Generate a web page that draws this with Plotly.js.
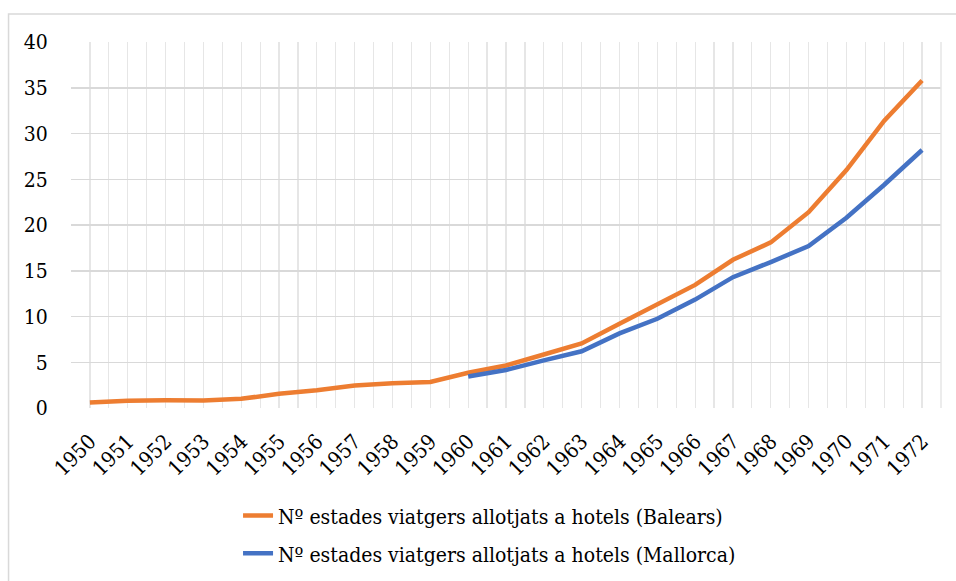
<!DOCTYPE html>
<html>
<head>
<meta charset="utf-8">
<script src="https://cdn.plot.ly/plotly-3.0.1.min.js"></script>
<style>html,body{margin:0;padding:0;background:#fff;}#chart{width:956px;height:581px;}</style>
</head>
<body>
<div id="chart"></div>
<script>
const years = [1950,1951,1952,1953,1954,1955,1956,1957,1958,1959,1960,1961,1962,1963,1964,1965,1966,1967,1968,1969,1970,1971,1972];
const balears = [0.6,0.8,0.85,0.82,1.0,1.55,1.95,2.45,2.7,2.85,3.85,4.65,5.85,7.05,9.2,11.3,13.45,16.2,18.1,21.4,26.0,31.4,35.8];
const mallorcaYears = [1960,1961,1962,1963,1964,1965,1966,1967,1968,1969,1970,1971,1972];
const mallorca = [3.45,4.15,5.2,6.2,8.15,9.75,11.85,14.3,15.95,17.7,20.8,24.4,28.2];
const nameBalears = "Nº estades viatgers allotjats a hotels (Balears)";
const nameMallorca = "Nº estades viatgers allotjats a hotels (Mallorca)";
const yTicks = [0,5,10,15,20,25,30,35,40];

const FAM = "DejaVu Serif Condensed";
function f(size) { return {family: FAM, size: size, color: "#000000"}; }

const traces = [
  {x: years, y: balears, name: nameBalears, type: "scatter", mode: "lines",
   line: {color: "#ED7D31", width: 4.5}, legend: "legend"},
  {x: mallorcaYears, y: mallorca, name: nameMallorca, type: "scatter", mode: "lines",
   line: {color: "#4472C4", width: 4.5}, legend: "legend2"}
];

const layout = {
  width: 956, height: 581,
  margin: {l: 71, r: 15, t: 42, b: 173, autoexpand: false},
  paper_bgcolor: "#ffffff", plot_bgcolor: "#ffffff",
  font: f(21),
  showlegend: true,
  xaxis: {
    range: [1949.5, 1972.5], tickvals: years, ticktext: years.map(String),
    tickangle: -45, tickfont: f(21),
    showgrid: true, gridcolor: "#e6e6e6", gridwidth: 1.2,
    minor: {tick0: 1949.5, dtick: 1, showgrid: true, gridcolor: "#e6e6e6", gridwidth: 1.2},
    zeroline: false, showline: false, automargin: false,
    ticks: "outside", ticklen: 12, tickcolor: "rgba(0,0,0,0)", fixedrange: true
  },
  yaxis: {
    range: [0, 40], tickvals: yTicks, ticktext: yTicks.map(String),
    tickfont: f(21),
    showgrid: true, gridcolor: "#d9d9d9", gridwidth: 1.5,
    zeroline: false, showline: false, automargin: false,
    ticks: "outside", ticklen: 18, tickcolor: "rgba(0,0,0,0)", fixedrange: true
  },
  legend: {x: 0.192, y: -0.295, xanchor: "left", yanchor: "middle",
    font: f(21), bgcolor: "rgba(0,0,0,0)"},
  legend2: {x: 0.192, y: -0.398, xanchor: "left", yanchor: "middle",
    font: f(21), bgcolor: "rgba(0,0,0,0)"},
  shapes: [
    {type: "rect", xref: "paper", yref: "paper", x0: -0.0718, x1: 1.1, y0: -0.6, y1: 1.0765,
     line: {color: "#d9d9d9", width: 1.5}, fillcolor: "rgba(0,0,0,0)", layer: "below"},
    {type: "line", xref: "paper", yref: "paper", x0: 1, x1: 1, y0: 0, y1: 1,
     line: {color: "#e6e6e6", width: 1.5}}
  ]
};

Plotly.newPlot("chart", traces, layout, {displayModeBar: false, staticPlot: true});
</script>
</body>
</html>
